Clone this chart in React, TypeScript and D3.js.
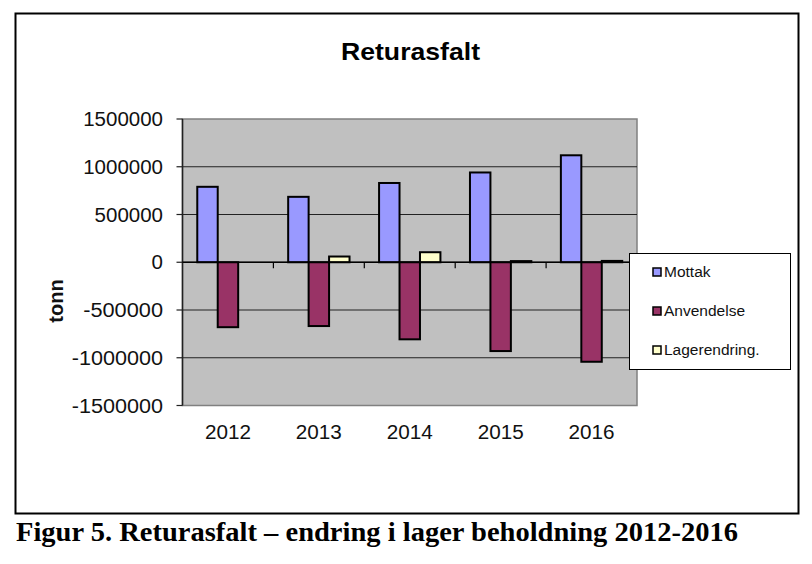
import React from "react";
import * as d3 from "d3";

const years = ["2012", "2013", "2014", "2015", "2016"];
const seriesNames = ["Mottak", "Anvendelse", "Lagerendring."];
const mottak = [790000, 685000, 830000, 940000, 1120000];
const anvendelse = [-680000, -668000, -807000, -930000, -1042000];
const lagerendring = [0, 60000, 105000, 12000, 14000];
const yTicks = [1500000, 1000000, 500000, 0, -500000, -1000000, -1500000];
const colors = ["#9999FF", "#993366", "#FFFFCC"];

export default function App() {
  const W = 812;
  const H = 564;
  const plot = { left: 182.5, right: 637, top: 119, bottom: 405.5 };

  const x = d3.scaleBand<string>().domain(years).range([plot.left, plot.right]).padding(0);
  const y = d3.scaleLinear().domain([-1500000, 1500000]).range([plot.bottom, plot.top]);
  const bw = x.bandwidth();
  const barW = bw * 0.225;
  const groupOff = (bw - 3 * barW) / 2;
  const series = [mottak, anvendelse, lagerendring];
  const y0 = y(0);

  return (
    <svg
      width={W}
      height={H}
      style={{ position: "absolute", left: 0, top: 0, background: "#fff" }}
      fontFamily="'Liberation Sans', Arial, sans-serif"
    >
      <rect x={0} y={0} width={W} height={H} fill="#fff" />
      {/* outer frame */}
      <rect x={15.5} y={13.5} width={783} height={500} fill="none" stroke="#000" strokeWidth={2} />

      {/* title */}
      <text x={410.5} y={60} textAnchor="middle" fontSize={24} fontWeight="bold" textLength={139} lengthAdjust="spacingAndGlyphs">
        Returasfalt
      </text>

      {/* plot area */}
      <rect
        x={plot.left}
        y={plot.top}
        width={plot.right - plot.left}
        height={plot.bottom - plot.top}
        fill="#C0C0C0"
        stroke="#808080"
        strokeWidth={1.5}
      />
      {/* gridlines */}
      {yTicks.filter((t) => t !== 1500000 && t !== -1500000).map((t) => (
        <line key={"g" + t} x1={plot.left} x2={plot.right} y1={y(t)} y2={y(t)} stroke="#222" strokeWidth={1.2} />
      ))}

      {/* y axis */}
      <line x1={plot.left} x2={plot.left} y1={plot.top} y2={plot.bottom} stroke="#222" strokeWidth={1.5} />
      {yTicks.map((t) => (
        <g key={"t" + t}>
          <line x1={plot.left - 6} x2={plot.left} y1={y(t)} y2={y(t)} stroke="#222" strokeWidth={1.2} />
          <text x={163} y={y(t)} dy="0.35em" textAnchor="end" fontSize={20} fill="#111" textLength={String(t).length * 11.4} lengthAdjust="spacingAndGlyphs">
            {t}
          </text>
        </g>
      ))}
      <text
        transform={`translate(63,301) rotate(-90)`}
        textAnchor="middle"
        fontSize={20}
        fontWeight="bold"
        fill="#111"
      >
        tonn
      </text>

      {/* bars */}
      {years.map((yr, i) =>
        series.map((s, k) => {
          const v = s[i];
          if (v === 0) return null;
          const bx = (x(yr) as number) + groupOff + k * barW;
          const top = Math.min(y(v), y0);
          const h = Math.abs(y(v) - y0);
          return (
            <rect
              key={yr + k}
              x={bx}
              y={top}
              width={barW}
              height={h}
              fill={colors[k]}
              stroke="#000"
              strokeWidth={2}
            />
          );
        })
      )}

      {/* zero axis line with category ticks */}
      <line x1={plot.left} x2={plot.right} y1={y0} y2={y0} stroke="#000" strokeWidth={1.5} />
      {years.map((yr) => (
        <line
          key={"ct" + yr}
          x1={(x(yr) as number) + bw}
          x2={(x(yr) as number) + bw}
          y1={y0}
          y2={y0 + 6}
          stroke="#000"
          strokeWidth={1.2}
        />
      ))}

      {/* x labels */}
      {years.map((yr) => (
        <text key={"xl" + yr} x={(x(yr) as number) + bw / 2} y={439} textAnchor="middle" fontSize={20} fill="#111" textLength={46} lengthAdjust="spacingAndGlyphs">
          {yr}
        </text>
      ))}

      {/* legend */}
      <rect x={629.5} y={253.5} width={161} height={116} fill="#fff" stroke="#000" strokeWidth={1} />
      {seriesNames.map((n, k) => (
        <g key={"lg" + n}>
          <rect x={653} y={268 + k * 39} width={8} height={8} fill={colors[k]} stroke="#000" strokeWidth={1.5} />
          <text x={664} y={272 + k * 39} dy="0.35em" fontSize={15.5} fill="#111">
            {n}
          </text>
        </g>
      ))}

      {/* caption */}
      <text
        x={16}
        y={541}
        fontFamily="'Liberation Serif', 'Times New Roman', serif"
        fontWeight="bold"
        fontSize={27}
        textLength={722}
        lengthAdjust="spacingAndGlyphs"
        fill="#000"
      >
        Figur 5. Returasfalt – endring i lager beholdning 2012-2016
      </text>
    </svg>
  );
}
